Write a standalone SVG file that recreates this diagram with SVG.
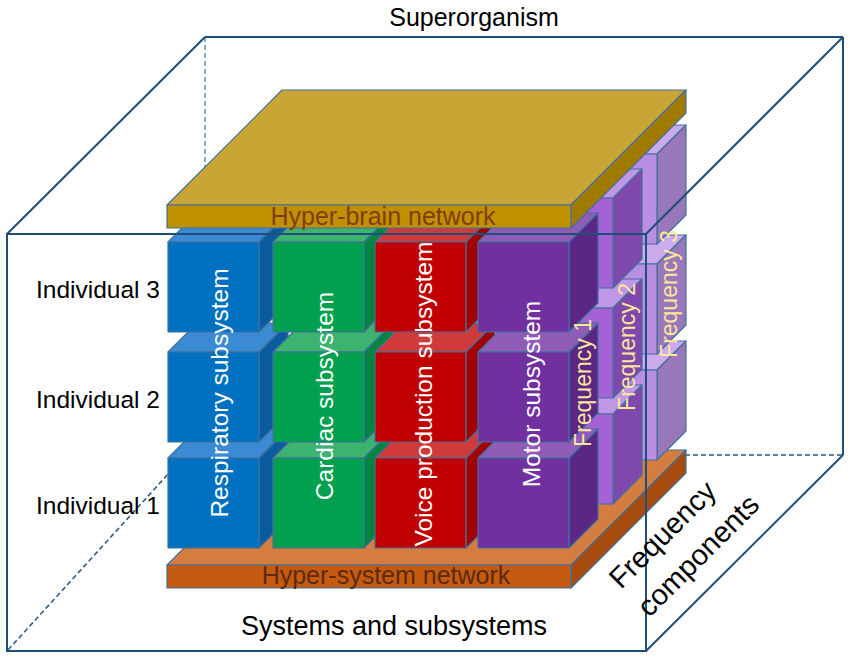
<svg xmlns="http://www.w3.org/2000/svg" xmlns:xlink="http://www.w3.org/1999/xlink" width="850" height="659" viewBox="0 0 850 659">
<defs>
<style>
.ft{fill:var(--t)} .fr{fill:var(--r)} .ff{fill:var(--f)}
.bs{stroke:#41719C;stroke-width:1.2;stroke-linejoin:round}
.blue{--t:#3A8BD3;--r:#0A5C9E;--f:#0070C0}
.green{--t:#3DB370;--r:#008540;--f:#00A04F}
.red{--t:#D13A3A;--r:#A30000;--f:#C00000}
.purple{--t:#8F5CB8;--r:#5B2787;--f:#7030A0}
.f2{--t:#C096E6;--r:#7E48AC;--f:#A562D6}
.f3{--t:#CCAAEE;--r:#9878BA;--f:#B88FE2}
text{font-family:"Liberation Sans",Arial,sans-serif}
.lbl{fill:#FFFFFF;font-size:24.5px;text-anchor:middle}
.freq{fill:#FFE699;font-size:23px;text-anchor:middle}
.side{fill:#000000;font-size:24.5px}
.title{fill:#000000;text-anchor:middle}
.wire{fill:none;stroke:#1F4E79;stroke-width:2}
.dash{fill:none;stroke:#2E5B8C;stroke-width:1.6;stroke-dasharray:5 3}
</style>
<g id="blk">
<polygon class="ft bs" points="0,0 29,-29 120,-29 91,0"/>
<polygon class="fr bs" points="91,0 120,-29 120,61 91,90"/>
<rect class="ff bs" x="0" y="0" width="91" height="90"/>
</g>
</defs>
<rect x="0" y="0" width="850" height="659" fill="#FFFFFF"/>

<g id="hidden-edges">
<line class="dash" x1="205" y1="37" x2="205" y2="455" style="stroke:#5B9BD5"/>
<line class="dash" x1="205" y1="455" x2="843" y2="455"/>
<line class="dash" x1="8" y1="650" x2="200" y2="439"/>
</g>

<g id="hyper-system-network">
<polygon class="bs" fill="#D57D3F" points="167,565 282,450 686,450 571,565"/>
<polygon class="bs" fill="#A64C0F" points="571,565 686,450 686,473 571,588"/>
<rect class="bs" fill="#C55A11" x="167" y="565" width="404" height="23"/>
<text x="386" y="584" font-size="25" fill="#5C2A0C" text-anchor="middle">Hyper-system network</text>
</g>

<g id="frequency-3" class="f3">
<use xlink:href="#blk" x="566" y="370"/>
<use xlink:href="#blk" x="566" y="264"/>
<use xlink:href="#blk" x="566" y="154"/>
<text class="freq" transform="translate(677,294) rotate(-90)">Frequency 3</text>
</g>

<g id="frequency-2" class="f2">
<use xlink:href="#blk" x="522" y="414"/>
<use xlink:href="#blk" x="522" y="308"/>
<use xlink:href="#blk" x="522" y="198"/>
<text class="freq" transform="translate(635,347) rotate(-90)">Frequency 2</text>
</g>

<g id="respiratory-subsystem" class="blue">
<use xlink:href="#blk" x="168" y="458"/>
<use xlink:href="#blk" x="168" y="352"/>
<use xlink:href="#blk" x="168" y="242"/>
<text class="lbl" transform="translate(228,393) rotate(-90)">Respiratory subsystem</text>
</g>

<g id="cardiac-subsystem" class="green">
<use xlink:href="#blk" x="273" y="458"/>
<use xlink:href="#blk" x="273" y="352"/>
<use xlink:href="#blk" x="273" y="242"/>
<text class="lbl" transform="translate(333,396) rotate(-90)">Cardiac subsystem</text>
</g>

<g id="voice-production-subsystem" class="red">
<use xlink:href="#blk" x="375" y="458"/>
<use xlink:href="#blk" x="375" y="352"/>
<use xlink:href="#blk" x="375" y="242"/>
<text class="lbl" transform="translate(432,394) rotate(-90)">Voice production subsystem</text>
</g>

<g id="motor-subsystem" class="purple">
<use xlink:href="#blk" x="478" y="458"/>
<use xlink:href="#blk" x="478" y="352"/>
<use xlink:href="#blk" x="478" y="242"/>
<text class="lbl" transform="translate(540,394) rotate(-90)">Motor subsystem</text>
</g>

<g id="frequency-1">
<text class="freq" transform="translate(591,383) rotate(-90)">Frequency 1</text>
</g>

<g id="hyper-brain-network">
<polygon class="bs" fill="#C9A535" points="167,205 282,90 686,90 571,205"/>
<polygon class="bs" fill="#A07A00" points="571,205 686,90 686,113 571,228"/>
<rect class="bs" fill="#BF9000" x="167" y="205" width="404" height="23"/>
<text x="383" y="225" font-size="25" fill="#843C0C" text-anchor="middle">Hyper-brain network</text>
</g>

<g id="cube-frame">
<line class="wire" x1="205" y1="37" x2="843" y2="37"/>
<line class="wire" x1="843" y1="37" x2="843" y2="455"/>
<line class="wire" x1="7" y1="234" x2="205" y2="37"/>
<line class="wire" x1="646" y1="234" x2="843" y2="37"/>
<line class="wire" x1="646" y1="651" x2="843" y2="455"/>
<rect class="wire" x="7" y="234" width="639" height="417"/>
</g>

<g id="axis-labels">
<text class="title" x="474" y="26" font-size="25">Superorganism</text>
<text class="title" x="394" y="635" font-size="27">Systems and subsystems</text>
<g transform="translate(621,590) rotate(-45)">
<text x="0" y="0" font-size="29" fill="#000000">Frequency</text>
<text x="0" y="40" font-size="29" fill="#000000">components</text>
</g>
<text class="side" x="36" y="298">Individual 3</text>
<text class="side" x="36" y="408">Individual 2</text>
<text class="side" x="36" y="514">Individual 1</text>
</g>
</svg>
